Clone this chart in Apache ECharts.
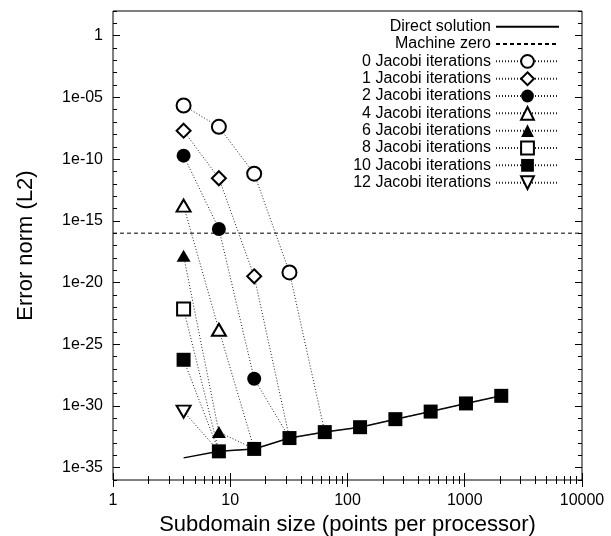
<!DOCTYPE html>
<html>
<head>
<meta charset="utf-8">
<script src="https://cdn.jsdelivr.net/npm/echarts@6/dist/echarts.min.js"></script>
<style>
html, body { margin: 0; padding: 0; background: #fff; }
#chart { width: 611px; height: 536px; }
</style>
</head>
<body>
<div id="chart"></div>
<script>
// subdomain sizes (points per processor)
const sizes = [4, 8, 16, 32, 64, 128, 256, 512, 1024, 2048];
// error norms, aligned with sizes from index 0
const directSolution = [6.2e-35, 2.1e-34, 3.3e-34, 2.5e-33, 7.6e-33, 1.9e-32, 8.5e-32, 3.5e-31, 1.6e-30, 6.6e-30];
const machineZero = 1e-16;
const jacobi0 = [2.2e-6, 4.1e-8, 6.6e-12, 6.6e-20, 7.6e-33];
const jacobi1 = [2.0e-8, 2.8e-12, 3.2e-20, 2.5e-33];
const jacobi2 = [1.9e-10, 2.2e-16, 1.6e-28, 2.5e-33];
const jacobi4 = [1.7e-14, 1.5e-24, 3.3e-34];
const jacobi6 = [1.5e-18, 7.6e-33, 3.3e-34];
const jacobi8 = [7.1e-23, 2.1e-34];
const jacobi10 = [5.5e-27, 2.1e-34, 3.3e-34, 2.5e-33, 7.6e-33, 1.9e-32, 8.5e-32, 3.5e-31, 1.6e-30, 6.6e-30];
const jacobi12 = [3.5e-31, 2.1e-34];

const xTicks = [1, 10, 100, 1000, 10000];
const yTicks = [1, 1e-5, 1e-10, 1e-15, 1e-20, 1e-25, 1e-30, 1e-35];

const FONT = 'Liberation Sans, Arial, Helvetica, sans-serif';

// minor ticks: 2..9 per decade on x, every decade on y
const xMinor = [];
for (let d = 1; d < 10000; d *= 10) {
    for (let k = 2; k <= 9; k++) xMinor.push(k * d);
}
const yMinor = [];
for (let e = -36; e <= 2; e++) yMinor.push(Math.pow(10, e));

const jacobiSeries = [
    { name: '0 Jacobi iterations', data: jacobi0, symbol: 'emptyCircle', size: 14 },
    { name: '1 Jacobi iterations', data: jacobi1, symbol: 'emptyDiamond', size: 14 },
    { name: '2 Jacobi iterations', data: jacobi2, symbol: 'circle', size: 14 },
    { name: '4 Jacobi iterations', data: jacobi4, symbol: 'emptyTriangle', size: [14, 12] },
    { name: '6 Jacobi iterations', data: jacobi6, symbol: 'triangle', size: [14, 12] },
    { name: '8 Jacobi iterations', data: jacobi8, symbol: 'emptyRect', size: 13 },
    { name: '10 Jacobi iterations', data: jacobi10, symbol: 'rect', size: 14, keepLast: true },
    { name: '12 Jacobi iterations', data: jacobi12, symbol: 'emptyTriangle', size: [14, 12], rotate: 180 }
];

const fmtY = (v) => {
    const e = Math.round(Math.log10(v));
    return e === 0 ? '1' : '1e-' + String(-e).padStart(2, '0');
};

function makeAxis(opts) {
    const base = {
        type: 'log',
        logBase: 10,
        axisLine: { show: false },
        splitLine: { show: false },
        axisTick: { show: true, inside: true, length: opts.len, lineStyle: { color: '#000', width: 1 }, customValues: opts.ticks },
        axisLabel: { show: false }
    };
    return Object.assign(base, opts.extra);
}

// grid 0 carries the major ticks, grid 1 (same box) the minor ones
const xAxes = [];
const yAxes = [];
[0, 1].forEach((g) => {
    const len = g === 0 ? 7 : 4;
    const xt = g === 0 ? xTicks : xMinor;
    xAxes.push(makeAxis({ len: len, ticks: xt, extra: { gridIndex: g, position: 'bottom', min: 1, max: 10000 } }));
    xAxes.push(makeAxis({ len: len, ticks: xt, extra: { gridIndex: g, position: 'top', min: 1, max: 10000 } }));
    const yt = g === 0 ? yTicks : yMinor;
    yAxes.push(makeAxis({ len: len, ticks: yt, extra: { gridIndex: g, position: 'left', min: 1e-36, max: 100 } }));
    yAxes.push(makeAxis({ len: len, ticks: yt, extra: { gridIndex: g, position: 'right', min: 1e-36, max: 100 } }));
});

// labels and names on the main bottom / left axes
Object.assign(xAxes[0], {
    name: 'Subdomain size (points per processor)',
    nameLocation: 'middle',
    nameGap: 33,
    nameTextStyle: { fontSize: 22, fontFamily: FONT, color: '#000' },
    axisLabel: { show: true, customValues: xTicks, margin: 13, fontSize: 16, fontFamily: FONT, color: '#000', formatter: (v) => String(Math.round(v)) }
});
Object.assign(yAxes[0], {
    name: 'Error norm (L2)',
    nameLocation: 'middle',
    nameGap: 76,
    nameRotate: 90,
    nameTextStyle: { fontSize: 22, fontFamily: FONT, color: '#000' },
    axisLabel: { show: true, customValues: yTicks, margin: 10, fontSize: 16, fontFamily: FONT, color: '#000', formatter: fmtY }
});

const series = [
    {
        name: 'Direct solution',
        type: 'line',
        symbol: 'none',
        lineStyle: { color: '#000', width: 1.5 },
        itemStyle: { color: '#000' },
        data: sizes.map((x, i) => [x, directSolution[i]])
    },
    {
        name: 'Machine zero',
        type: 'line',
        symbol: 'none',
        lineStyle: { color: '#000', width: 1, type: [4, 3] },
        itemStyle: { color: '#000' },
        data: [[xTicks[0], machineZero], [xTicks[xTicks.length - 1], machineZero]]
    }
];

jacobiSeries.forEach((s) => {
    const n = s.data.length;
    series.push({
        name: s.name,
        type: 'line',
        symbol: s.symbol,
        symbolSize: s.size,
        symbolRotate: s.rotate || 0,
        lineStyle: { color: '#222', width: 1, type: [1, 2] },
        itemStyle: { color: '#000', borderWidth: 1.2 },
        // the last point sits on the direct-solution curve; hide its marker
        data: s.data.map((v, i) => {
            const item = { value: [sizes[i], v] };
            if (i === n - 1 && !s.keepLast) item.symbol = 'none';
            return item;
        })
    });
});

const legends = series.map((s, i) => {
    const lg = {
        data: [s.name],
        orient: 'vertical',
        align: 'right',
        right: 51,
        top: 26.7 + i * 17.33 - 9,
        padding: 0,
        itemWidth: 63,
        itemHeight: 16,
        selectedMode: false,
        itemStyle: { borderWidth: 1.2 },
        textStyle: { fontSize: 16, fontFamily: FONT, color: '#000', lineHeight: 18 }
    };
    // plain lines: no marker in the key
    if (s.symbol === 'none') lg.itemStyle = { opacity: 0 };
    return lg;
});

const gridBox = { left: 113, right: 29, top: 11, bottom: 56, outerBoundsMode: 'none' };

const chart = echarts.init(document.getElementById('chart'));
chart.setOption({
    animation: false,
    backgroundColor: '#fff',
    grid: [
        Object.assign({ show: true, borderColor: '#000', borderWidth: 1 }, gridBox),
        Object.assign({ show: false }, gridBox)
    ],
    legend: legends,
    xAxis: xAxes,
    yAxis: yAxes,
    series: series
});
</script>
</body>
</html>
